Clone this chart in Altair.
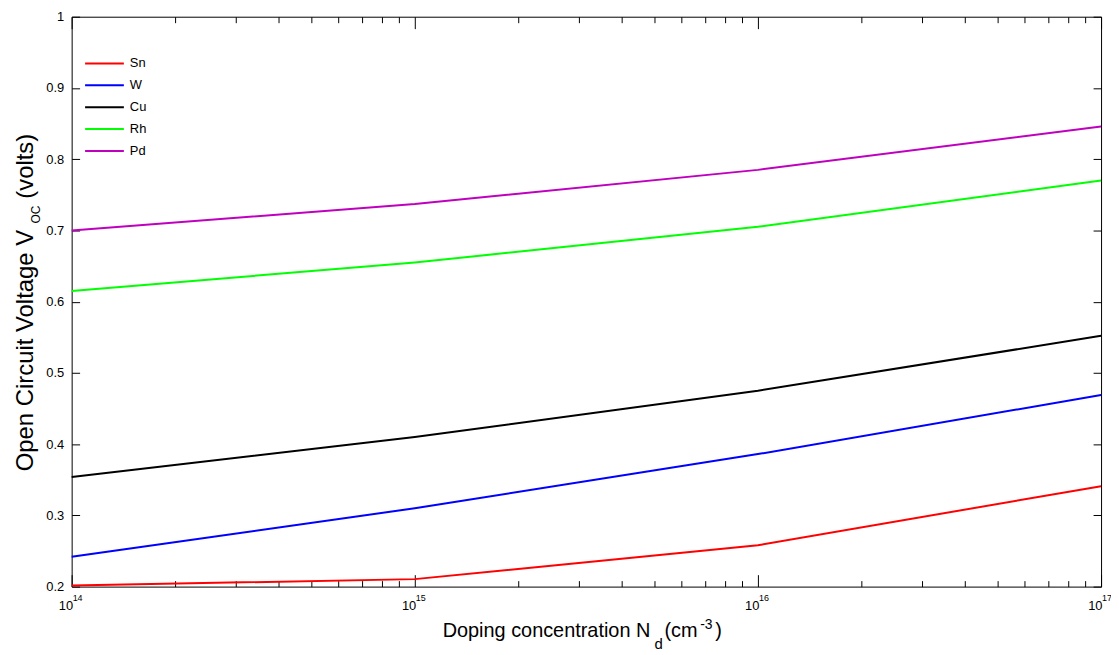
import altair as alt
import pandas as pd

# ---- data ----
doping = [1e14, 1e15, 1e16, 1e17]
metals = ["Sn", "W", "Cu", "Rh", "Pd"]
colors = ["#FF0000", "#0000FF", "#000000", "#00FF00", "#BF00BF"]
voc_Sn = [0.2015, 0.2105, 0.258, 0.341]
voc_W = [0.242, 0.310, 0.386, 0.469]
voc_Cu = [0.354, 0.410, 0.475, 0.552]
voc_Rh = [0.615, 0.655, 0.705, 0.770]
voc_Pd = [0.700, 0.737, 0.785, 0.846]

x_major = [1e14, 1e15, 1e16, 1e17]
x_major_exponents = ["14", "15", "16", "17"]
y_ticks = [0.2, 0.3, 0.4, 0.5, 0.6, 0.7, 0.8, 0.9, 1.0]

FONT = "Liberation Sans"

rows = []
for i, (m, vals) in enumerate(zip(metals, [voc_Sn, voc_W, voc_Cu, voc_Rh, voc_Pd])):
    for n, v in zip(doping, vals):
        rows.append({"metal": m, "N": n, "V": v, "k": i})
df = pd.DataFrame(rows)
exp_df = pd.DataFrame({"N": x_major, "e": x_major_exponents})

x_minor = [k * 10.0 ** e for e in (14, 15, 16) for k in range(2, 10)]
is_major = " || ".join(f"datum.value == {v:.0e}" for v in x_major)
label_expr = f"({is_major}) ? '10' : ''"

x_scale = alt.Scale(type="log", domain=[1e14, 1e17], nice=False)
y_scale = alt.Scale(domain=[0.2, 1.0], nice=False, zero=False)

x_tick_size = {"condition": {"test": is_major, "value": -12}, "value": -6}

bottom_axis = alt.Axis(
    orient="bottom", values=x_major + x_minor, labelExpr=label_expr,
    tickSize=x_tick_size, labelPadding=25, domain=False, grid=False, title=None,
    labelFont=FONT, labelFontSize=13, labelColor="black", tickColor="black",
    labelFlush=False, labelOverlap=False, labelBound=False, labelBaseline="top",
    labelAlign="right", labelOffset=1,
)
top_axis = alt.Axis(
    orient="top", values=x_major + x_minor, labels=False,
    tickSize=x_tick_size, domain=False, grid=False, title=None, tickColor="black",
)
left_axis = alt.Axis(
    orient="left", values=y_ticks, format="~g", tickSize={"expr": "-8"},
    labelPadding=16, domain=False, grid=False, title=None,
    labelFont=FONT, labelFontSize=13, labelColor="black", tickColor="black",
    labelOverlap=False, labelFlush=False,
)
right_axis = alt.Axis(
    orient="right", values=y_ticks, labels=False, tickSize={"expr": "-8"},
    domain=False, grid=False, title=None, tickColor="black",
)

base = alt.Chart(df)
lines = base.mark_line(strokeWidth=2).encode(
    x=alt.X("N:Q", scale=x_scale, axis=bottom_axis),
    y=alt.Y("V:Q", scale=y_scale, axis=left_axis),
    color=alt.Color(
        "metal:N",
        scale=alt.Scale(domain=metals, range=colors),
        sort=metals,
        legend=alt.Legend(
            orient="none", legendX=22, legendY=36, title=None,
            symbolType="M-2,0L2,0", symbolSize=380, symbolStrokeWidth=2,
            labelFont=FONT, labelFontSize=13, labelColor="black",
            labelOffset=14.5, rowPadding=4, padding=0,
        ),
    ),
    order="k:Q",
)
ghost = base.mark_line(opacity=0).encode(
    x=alt.X("N:Q", scale=x_scale, axis=top_axis),
    y=alt.Y("V:Q", scale=y_scale, axis=right_axis),
    detail="metal:N",
)
# exponents of the decade tick labels (10^14 ...)
exponents = alt.Chart(exp_df).mark_text(
    align="left", baseline="alphabetic", font=FONT, fontSize=9, dx=1, color="black",
).encode(
    x=alt.X("N:Q", scale=x_scale, axis=None),
    y=alt.value(587),
    text="e:N",
)

# ---- axis titles (with sub/superscripts) ----
title_parts = [
    # text, x, y, size, angle
    ("Doping concentration N", 373, 624, 20, 0),
    ("d", 586, 636, 15, 0),
    ("(cm", 596, 624, 20, 0),
    ("-3", 632, 616, 14, 0),
    (")", 647, 624, 20, 0),
    ("Open Circuit Voltage V", -39, 457, 24, 270),
    ("OC", -32, 208, 12, 270),
    ("(volts)", -39, 183, 24, 270),
]
title_layers = []
for t, x, y, s, a in title_parts:
    title_layers.append(
        alt.Chart(pd.DataFrame({"t": [t]})).mark_text(
            align="left", baseline="alphabetic", font=FONT, fontSize=s,
            angle=a, color="black",
        ).encode(x=alt.value(x), y=alt.value(y), text="t:N")
    )

chart = (
    alt.layer(lines, ghost, exponents, *title_layers)
    .resolve_axis(x="independent", y="independent")
    .properties(
        width=1035, height=573,
        autosize=alt.AutoSizeParams(type="none"),
        padding={"left": 64, "top": 7, "right": 10, "bottom": 65},
        background="white",
    )
    .configure_view(stroke="black", strokeWidth=1)
)

chart.save("out.html", embed_options={"renderer": "svg", "actions": False})
